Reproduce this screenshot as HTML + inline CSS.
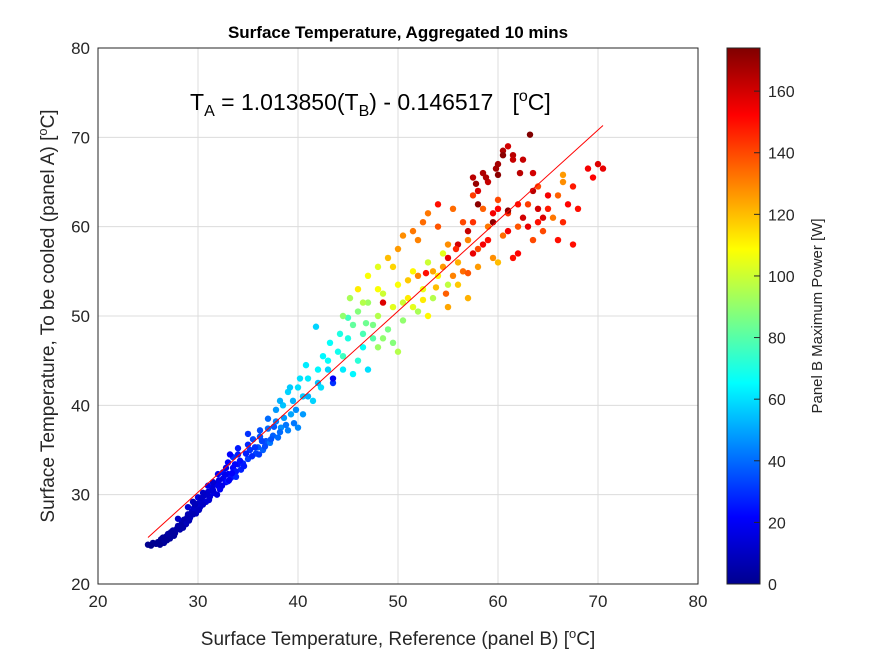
<!DOCTYPE html>
<html><head><meta charset="utf-8"><style>
body{margin:0;background:#fff;font-family:"Liberation Sans",Arial,sans-serif}
svg text{font-family:"Liberation Sans",Arial,sans-serif}
</style></head><body>
<svg id="chart" width="875" height="656" xmlns="http://www.w3.org/2000/svg">
<defs><linearGradient id="jet" x1="0" y1="1" x2="0" y2="0">
<stop offset="0" stop-color="#00008f"/><stop offset="0.125" stop-color="#0000ff"/><stop offset="0.375" stop-color="#00ffff"/><stop offset="0.625" stop-color="#ffff00"/><stop offset="0.875" stop-color="#ff0000"/><stop offset="1" stop-color="#800000"/></linearGradient></defs>
<rect x="98" y="48" width="600" height="536" fill="#fff" stroke="none"/>
<g id="grid"></g>
<g id="pts"></g>
<g id="fit"></g>
<rect x="98" y="48" width="600" height="536" fill="none" stroke="#262626" stroke-width="1"/>
<g id="ticks"></g>
<text x="398" y="38" text-anchor="middle" font-size="17" font-weight="bold" fill="#000">Surface Temperature, Aggregated 10 mins</text>
<text x="398" y="645" text-anchor="middle" font-size="19" fill="#262626">Surface Temperature, Reference (panel B) [<tspan dy="-7" font-size="13">o</tspan><tspan dy="7">C]</tspan></text>
<text transform="translate(54,316) rotate(-90)" text-anchor="middle" font-size="19" fill="#262626">Surface Temperature, To be cooled (panel A) [<tspan dy="-7" font-size="13">o</tspan><tspan dy="7">C]</tspan></text>
<text x="190" y="110" font-size="23" fill="#000">T<tspan dy="6" font-size="16">A</tspan><tspan dy="-6"> = 1.013850(T</tspan><tspan dy="6" font-size="16">B</tspan><tspan dy="-6">) - 0.146517&#160;&#160;&#160;[</tspan><tspan dy="-9" font-size="16">o</tspan><tspan dy="9">C]</tspan></text>
<rect x="727" y="48" width="33" height="536" fill="url(#jet)" stroke="#262626" stroke-width="1"/>
<g id="cticks"></g>
<text transform="translate(822,316) rotate(-90)" text-anchor="middle" font-size="15" fill="#262626">Panel B Maximum Power [W]</text>
</svg>
<script>
const xTicks=[20,30,40,50,60,70,80];
const yTicks=[20,30,40,50,60,70,80];
const cTicks=[0,20,40,60,80,100,120,140,160];
const fitSlope=1.013850, fitIntercept=-0.146517, fitRange=[25,70.5];
const xVals=[25.0,25.5,26.0,26.3,26.6,26.8,27.0,27.2,27.5,27.7,28.0,28.2,28.4,28.6,28.8,29.0,29.2,29.4,29.6,29.8,30.0,30.2,30.4,30.6,30.8,31.0,31.2,31.4,31.6,31.8,32.0,32.2,32.5,32.8,33.0,33.3,33.5,33.8,34.0,34.3,28.0,29.0,30.0,31.0,32.0,33.0,34.0,35.0,
33.5,34.5,35.0,35.2,35.5,35.8,36.0,36.2,36.5,36.8,37.0,37.2,37.5,37.8,38.0,38.3,38.6,39.0,39.3,39.6,40.0,32.5,33.0,33.8,
38.5,39.0,39.5,40.0,40.5,41.0,41.5,42.0,42.3,43.0,43.5,44.0,44.5,45.0,45.5,46.0,46.5,47.0,41.8,43.5,
45.5,46.0,46.5,47.0,47.5,48.0,48.5,49.0,49.5,50.0,50.5,51.0,51.5,52.0,52.5,53.0,53.5,54.0,54.5,55.0,47.0,48.0,46.0,44.5,50.0,48.0,
49.0,50.0,51.0,52.0,53.0,53.5,54.0,55.0,55.5,56.0,56.5,57.0,57.5,58.0,58.5,59.0,59.5,60.0,60.5,61.0,62.0,63.0,64.0,66.5,66.0,65.5,64.5,52.0,55.0,57.0,60.0,66.5,
48.5,54.0,55.0,56.0,57.0,57.5,58.0,58.5,59.0,59.5,60.0,60.5,61.0,61.5,62.0,62.5,63.0,63.5,64.0,65.0,67.0,67.5,69.0,70.5,70.0,66.0,62.0,61.5,58.5,57.5,63.5,64.5,
58.0,60.0,61.0,63.2,59.5,60.5,
25.3,25.8,26.2,26.5,26.9,27.3,27.6,27.9,28.3,28.5,28.9,29.1,29.5,29.7,30.1,30.3,30.5,30.9,31.1,31.5,31.9,32.1,32.4,32.7,33.1,33.4,33.7,34.2,34.6,34.8,35.4,35.7,36.1,36.4,36.7,37.3,37.6,38.2,38.8,
29.5,30.5,31.5,32.8,33.2,34.0,35.0,36.2,37.0,37.8,38.2,39.2,40.2,40.8,42.5,43.2,44.2,45.0,46.8,47.5,48.5,49.5,50.5,51.5,52.5,53.0,53.8,54.5,55.5,56.5,57.0,58.0,56.0,54.8,52.8,55.8,57.5,59.0,61.0,60.0,62.5,64.0,65.0,59.8,58.8,57.8,61.5,62.2,50.5,51.5,52.5,49.5,48.0,46.5,44.5,45.2,43.0,42.0,41.0,40.5,39.8,63.5,66.5,68.0,69.5,67.5];
const yVals=[24.4,24.6,24.7,25.0,24.6,25.3,25.6,25.1,26.0,25.7,26.5,26.1,26.9,27.2,26.7,27.8,27.4,28.1,28.5,27.9,29.0,28.6,29.4,29.9,29.2,30.3,29.8,30.8,30.2,31.2,31.0,30.6,31.8,31.4,32.3,31.9,33.0,32.6,33.4,32.8,27.3,28.6,29.7,31.0,32.3,33.6,34.5,35.6,
34.2,33.5,34.0,35.0,36.2,34.6,35.3,36.5,35.0,36.0,37.4,35.8,36.6,38.2,36.4,37.5,38.6,37.2,39.0,38.0,37.5,32.5,31.5,32.0,
40.0,41.5,40.5,42.0,41.0,43.0,40.5,44.0,42.0,45.0,42.5,46.0,44.0,47.5,43.5,45.0,46.5,44.0,48.8,43.0,
49.0,50.5,48.0,51.5,47.5,50.0,52.5,48.5,51.0,53.5,49.5,52.0,55.0,50.5,53.0,56.0,52.0,54.5,57.0,53.5,54.5,55.5,53.0,45.5,46.0,46.5,
56.5,57.5,54.0,58.5,61.5,55.0,60.0,58.0,62.0,56.0,60.5,58.5,63.5,55.5,62.0,60.0,56.5,63.0,59.0,61.5,60.0,62.5,64.5,65.0,63.5,61.0,59.5,54.5,51.0,52.0,56.0,65.8,
51.5,62.5,56.5,58.0,59.5,65.5,64.0,66.0,65.0,61.5,67.0,68.5,69.0,68.0,62.5,67.5,60.0,64.0,62.0,63.5,62.5,58.0,66.5,66.5,67.0,58.5,57.0,56.5,58.0,57.0,66.0,61.0,
62.5,65.8,61.8,70.3,60.5,68.0,
24.3,24.5,24.4,25.2,24.9,25.8,25.4,26.2,26.6,26.3,27.4,27.1,27.8,28.9,28.3,29.6,28.9,30.0,29.4,30.5,30.0,31.6,31.0,32.2,31.6,32.4,33.4,33.8,33.2,34.6,34.3,35.3,34.5,36.0,35.4,36.2,37.6,37.0,37.8,
29.2,30.2,31.4,33.0,34.5,35.2,36.8,37.2,38.5,39.5,40.5,42.0,43.0,44.5,45.5,47.0,48.0,49.8,49.2,49.0,47.5,47.0,51.5,51.0,51.8,50.0,53.2,55.5,54.5,55.0,54.8,57.5,53.5,52.5,54.8,57.5,60.5,58.5,59.5,62.0,61.0,60.5,62.0,66.5,65.5,64.8,67.5,66.0,59.0,59.5,60.5,55.5,53.0,51.5,50.0,52.0,44.0,42.5,41.0,39.0,39.5,58.5,60.5,62.0,65.5,64.5];
const powerVals=[3,3,4,3,5,4,6,5,7,6,8,7,9,8,10,9,11,10,12,11,12,13,14,12,15,14,16,15,17,16,18,20,19,22,20,24,22,25,24,27,12,14,16,18,20,22,26,28,
30,28,32,30,34,33,36,35,38,36,40,42,38,44,40,46,48,44,50,42,45,24,26,28,
55,58,52,60,56,62,58,64,60,66,30,68,62,70,64,72,66,60,58,20,
82,88,78,92,80,96,100,86,104,108,90,112,110,94,106,100,96,110,104,98,108,104,112,76,96,92,
120,126,118,130,132,124,138,128,134,122,140,130,142,126,136,132,128,140,134,144,138,142,140,128,136,132,140,130,124,122,120,126,
158,150,156,160,162,164,158,166,162,154,168,166,160,164,150,162,156,164,160,154,152,150,154,156,158,150,152,150,154,156,160,158,
172,172,172,174,172,172,
2,3,3,4,4,5,5,6,7,7,8,9,9,10,11,12,12,13,14,15,16,17,18,19,20,21,22,24,26,27,29,30,32,33,34,36,37,40,42,
10,12,14,18,22,26,30,35,40,48,52,56,60,62,64,66,70,76,84,86,90,88,100,104,112,110,120,126,130,134,138,140,118,136,150,146,144,150,154,152,160,150,148,168,166,170,162,164,128,132,134,116,108,96,90,94,58,54,52,48,46,140,146,150,152,148];
const NS='http://www.w3.org/2000/svg';
const X0=98,X1=698,Y0=584,Y1=48;
function sx(v){return X0+(v-20)/60*(X1-X0);}
function sy(v){return Y0-(v-20)/60*(Y0-Y1);}
function sc(v){return 584-v/174*536;}
function jet(v){let t=Math.max(0,Math.min(1,v/174));
function c(x){return Math.max(0,Math.min(1,1.5-Math.abs(4*t-x)));}
return 'rgb('+Math.round(255*c(3))+','+Math.round(255*c(2))+','+Math.round(255*c(1))+')';}
function mk(tag,attrs,parent){const e=document.createElementNS(NS,tag);for(const k in attrs)e.setAttribute(k,attrs[k]);parent.appendChild(e);return e;}
const grid=document.getElementById('grid'),ticks=document.getElementById('ticks');
xTicks.forEach(t=>{const x=sx(t);
const g=mk('line',{x1:x,x2:x,y1:Y1,y2:Y0,stroke:'#dcdcdc','stroke-width':1},grid);


const l=mk('text',{x:x,y:Y0+23,'text-anchor':'middle','font-size':17,fill:'#262626'},ticks);l.textContent=t;

});
yTicks.forEach(t=>{const y=sy(t);
const g=mk('line',{x1:X0,x2:X1,y1:y,y2:y,stroke:'#dcdcdc','stroke-width':1},grid);


const l=mk('text',{x:X0-8,y:y+6,'text-anchor':'end','font-size':17,fill:'#262626'},ticks);l.textContent=t;

});
const pts=document.getElementById('pts');
xVals.forEach((x,i)=>{const c=mk('circle',{cx:sx(x),cy:sy(yVals[i]),r:3.2,fill:jet(powerVals[i])},pts);

});
const fl=mk('line',{x1:sx(fitRange[0]),y1:sy(fitSlope*fitRange[0]+fitIntercept),x2:sx(fitRange[1]),y2:sy(fitSlope*fitRange[1]+fitIntercept),stroke:'#ff0000','stroke-width':1},document.getElementById('fit'));


const ct=document.getElementById('cticks');
cTicks.forEach(t=>{const y=sc(t);
const tk=mk('line',{x1:754,x2:760,y1:y,y2:y,stroke:'#262626'},ct);


const l=mk('text',{x:768,y:y+6,'font-size':16,fill:'#262626'},ct);l.textContent=t;

});
</script>
</body></html>
